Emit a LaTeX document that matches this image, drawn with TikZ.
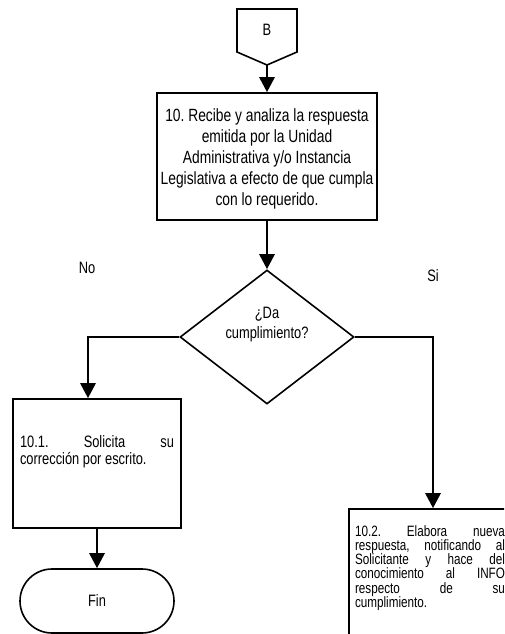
\documentclass[tikz,border=0pt]{standalone}
\usepackage{fontspec}
\setmainfont{Liberation Sans}[FakeStretch=0.78]
\usetikzlibrary{shapes.geometric, arrows.meta}

\tikzset{
  flowbox/.style={draw, line width=1.6pt, inner xsep=7pt, inner ysep=0pt},
  flowline/.style={line width=2.8pt},
  flowarrow/.style={flowline, -{Triangle[width=15pt,length=15pt]}},
  decision/.style={diamond, draw, line width=1.6pt, minimum width=174pt,
    minimum height=134pt, inner sep=0pt, aspect=1.3},
  terminal/.style={draw, line width=1.6pt, rounded corners=32pt,
    minimum width=154pt, minimum height=64pt, font=\fontsize{16.5}{19}\selectfont},
  plain/.style={font=\fontsize{16.5}{19.5}\selectfont, inner sep=0pt},
}

\begin{document}
\frenchspacing
\begin{tikzpicture}[x=1pt, y=-1pt]
  \useasboundingbox (0,0) rectangle (504,634);
  \clip (0,0) rectangle (504,634);

  % off-page connector B
  \draw[line width=1.6pt] (237,9) -- (297,9) -- (297,52) -- (267,65) -- (237,52) -- cycle;
  \node[plain] (B) at (267,30) {B};
  \coordinate (Btip) at (267,65);

  % step 10
  \node[flowbox, inner xsep=0pt] (r10) at (267,156.5)
    {\parbox[c][127pt][t]{220pt}{\centering\fontsize{17.7}{21}\selectfont
      \rule{0pt}{28.5pt}10. Recibe y analiza la respuesta\\
      emitida por la Unidad\\
      Administrativa y/o Instancia\\
      Legislativa a efecto de que cumpla\\
      con lo requerido.}};

  % decision
  \node[decision] (d) at (267,337) {};
  \node[plain, align=center] (dq) at (267,324.5) {¿Da\\cumplimiento?};

  % branch labels
  \node[plain] (no) at (87,268) {No};
  \node[plain] (si) at (433,276) {Si};

  % step 10.1
  \node[flowbox] (r101) at (97,463.5)
    {\parbox[c][129pt][t]{154pt}{\fontsize{16.5}{17}\selectfont\frenchspacing
      \rule{0pt}{48.5pt}10.1. Solicita su\linebreak
      corrección por escrito.}};

  % step 10.2
  \node[flowbox, inner xsep=6pt] (r102) at (430,574.5)
    {\parbox[c][131pt][t]{150pt}{\fontsize{15}{14.3}\selectfont\frenchspacing
      \rule{0pt}{27pt}10.2. Elabora nueva\linebreak
      respuesta, notificando al\linebreak
      Solicitante y hace del\linebreak
      conocimiento al INFO\linebreak
      respecto de su\linebreak
      cumplimiento.}};

  % end
  \node[terminal] (fin) at (97,601) {Fin};

  % connectors
  \draw[flowarrow] (Btip) -- (r10.north);
  \draw[flowarrow] (r10.south) -- (d.north);
  \draw[flowarrow] (d.west) -| ([xshift=-9pt]r101.north);
  \draw[flowarrow] (d.east) -| ([xshift=3pt]r102.north);
  \draw[flowarrow] (r101.south) -- (fin.north);
\end{tikzpicture}
\end{document}
